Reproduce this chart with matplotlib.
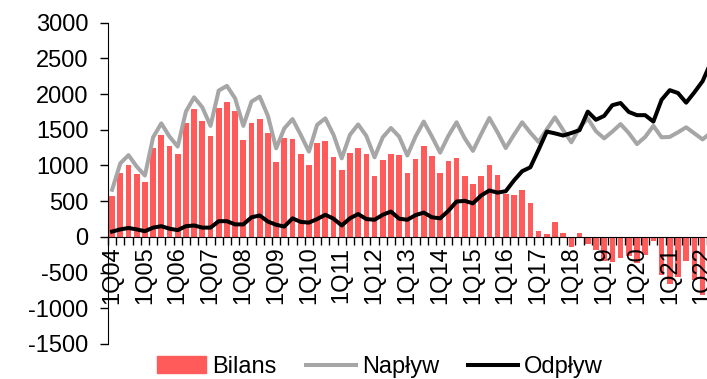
import numpy as np
import matplotlib
matplotlib.use("Agg")
import matplotlib.pyplot as plt
from matplotlib.patches import Patch
from matplotlib.lines import Line2D

plt.rcParams['font.family'] = ['Liberation Sans', 'DejaVu Sans']
plt.rcParams['axes.unicode_minus'] = False

# quarters 1Q04 .. 2Q22
quarters = [f"{q}Q{y:02d}" for y in range(4, 23) for q in range(1, 5)][:74]

naplyw = [660, 1030, 1145, 985, 860, 1395, 1590, 1405, 1265, 1755,
          1955, 1815, 1555, 2050, 2115, 1940, 1555, 1895, 1965, 1695,
          1240, 1520, 1650, 1430, 1195, 1570, 1660, 1430, 1100, 1430,
          1575, 1415, 1115, 1395, 1525, 1405, 1140, 1405, 1615, 1405,
          1180, 1415, 1605, 1380, 1205, 1440, 1665, 1465, 1245, 1430,
          1605, 1460, 1330, 1505, 1675, 1495, 1325, 1530, 1660, 1480,
          1380, 1475, 1580, 1455, 1300, 1400, 1555, 1395, 1400, 1465,
          1535, 1450, 1365, 1460]

odplyw = [75, 105, 125, 105, 80, 130, 150, 115, 95, 150,
          160, 130, 130, 220, 220, 175, 175, 275, 300, 215,
          170, 145, 260, 210, 200, 250, 310, 255, 160, 260,
          320, 250, 240, 310, 355, 255, 240, 305, 340, 275,
          260, 365, 495, 505, 470, 580, 650, 620, 640, 790,
          920, 975, 1220, 1475, 1450, 1420, 1455, 1495, 1755, 1640,
          1695, 1845, 1875, 1750, 1705, 1705, 1615, 1920, 2055, 2015,
          1880, 2025, 2180, 2440]

bilans = [575, 895, 1005, 880, 770, 1245, 1430, 1275, 1165, 1600,
          1790, 1630, 1420, 1805, 1885, 1765, 1360, 1590, 1655, 1455,
          1055, 1380, 1370, 1160, 1000, 1310, 1345, 1120, 930, 1170,
          1245, 1155, 850, 1075, 1160, 1145, 895, 1090, 1275, 1130,
          900, 1065, 1100, 850, 735, 850, 1005, 860, 600, 590,
          660, 475, 85, 40, 205, 60, -140, 50, -95, -190,
          -340, -350, -300, -270, -360, -260, -60, -540, -655, -555,
          -340, -600, -815, -980]

x = np.arange(len(quarters))

fig = plt.figure(figsize=(7.07, 3.79), dpi=100)
ax = fig.add_axes([108 / 707, 1 - 344 / 379, 1 - 108 / 707, (344 - 22.7) / 379])

ax.bar(x, bilans, width=0.69, color='#FF5B5B', zorder=1)
ax.plot(x, naplyw, color='#A6A6A6', lw=2.9, zorder=2)
ax.plot(x, odplyw, color='black', lw=2.9, zorder=3)

for side in ['top', 'right']:
    ax.spines[side].set_visible(False)
ax.spines['bottom'].set_position(('data', 0))
ax.spines['bottom'].set_zorder(4)

ax.set_yticks(np.arange(-1500, 3001, 500))

# labels only for first quarters, tick marks between every quarter
first_q = [i for i, q in enumerate(quarters) if q.startswith('1Q')]
ax.set_xticks(first_q)
ax.set_xticklabels([quarters[i] for i in first_q])
ax.set_xticks(np.arange(-0.5, len(quarters), 1), minor=True)
ax.tick_params(axis='x', which='major', length=0, pad=7, labelsize=17, labelrotation=90)
ax.tick_params(axis='x', which='minor', length=6, width=1, direction='out')
ax.tick_params(axis='y', length=6, width=1, direction='out', pad=8, labelsize=17)

ax.set_ylim(-1500, 3000)
ax.set_xlim(-0.5, 72.54)

handles = [Patch(color='#FF5B5B', label='Bilans'),
           Line2D([], [], color='#A6A6A6', lw=2.9, label='Napływ'),
           Line2D([], [], color='black', lw=2.9, label='Odpływ')]
fig.legend(handles=handles, loc='center', bbox_to_anchor=(0.537, 0.032), ncol=3,
           frameon=False, fontsize=17, handlelength=2.1, handletextpad=0.25,
           columnspacing=1.25, borderpad=0)

fig.savefig('out.png', dpi=100)
